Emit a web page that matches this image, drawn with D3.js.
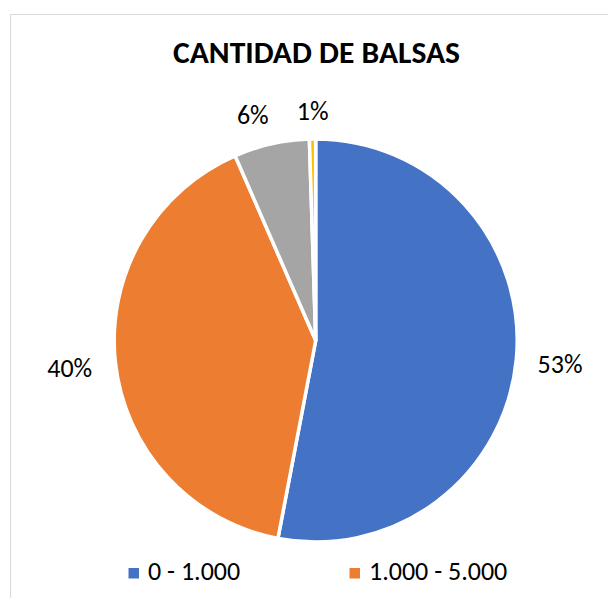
<!DOCTYPE html>
<html>
<head>
<meta charset="utf-8">
<script src="https://cdn.jsdelivr.net/npm/d3@7/dist/d3.min.js"></script>
<style>
  html, body { margin: 0; padding: 0; background: #fff; }
  svg { display: block; }
</style>
</head>
<body>
<svg id="chart" width="608" height="598"></svg>
<script>
// ---- Data ----
const title = "CANTIDAD DE BALSAS";
const categories = ["0 - 1.000", "1.000 - 5.000", "5.000 - 10.000", "Más de 10.000"];
const values = [53.0, 40.45, 6.05, 0.5];
const colors = ["#4472C4", "#ED7D31", "#A5A5A5", "#FFC000"];
const legendShown = ["0 - 1.000", "1.000 - 5.000"];

// ---- Layout ----
const cx = 315.7, cy = 340.5, R = 201.5;
const fontStack = "Carlito, Calibri, 'Liberation Sans', Arial, sans-serif";

const svg = d3.select("#chart");

// chart area border (continues beyond the visible window)
svg.append("rect")
  .attr("x", 10.5).attr("y", 14.5)
  .attr("width", 800).attr("height", 800)
  .attr("fill", "#fff")
  .attr("stroke", "#D9D9D9").attr("stroke-width", 1);

// title
svg.append("text")
  .attr("x", 316.5).attr("y", 63)
  .attr("text-anchor", "middle")
  .attr("font-family", fontStack)
  .attr("font-weight", "bold")
  .attr("font-size", 31)
  .attr("textLength", 287)
  .attr("lengthAdjust", "spacingAndGlyphs")
  .attr("fill", "#000")
  .text(title);

const color = d3.scaleOrdinal().domain(categories).range(colors);
const total = d3.sum(values);
const data = categories.map((c, i) => ({ cat: c, value: values[i] }));

const pie = d3.pie().value(d => d.value).sort(null);
const arcs = pie(data);
const arc = d3.arc().innerRadius(0).outerRadius(R);

const g = svg.append("g").attr("transform", `translate(${cx},${cy})`);
g.selectAll("path.slice")
  .data(arcs)
  .join("path")
  .attr("class", "slice")
  .attr("d", arc)
  .attr("fill", d => color(d.data.cat))
  .attr("stroke", "#fff")
  .attr("stroke-width", 3.5)
  .attr("stroke-linejoin", "round");

// outside-end data labels
const labelPos = arcs.map((a, i) => {
  const mid = (a.startAngle + a.endAngle) / 2;
  let r = R + 40, ang = mid;
  if (i === 0) r = R + 44;
  else if (i === 1) r = R + 46;
  else if (i === 2) { r = R + 33; ang = mid - 0.05; }
  else { r = R + 28; ang = a.endAngle - 0.013; }
  return { x: Math.sin(ang) * r, y: -Math.cos(ang) * r };
});

g.selectAll("text.lbl")
  .data(arcs)
  .join("text")
  .attr("class", "lbl")
  .attr("x", (d, i) => labelPos[i].x)
  .attr("y", (d, i) => labelPos[i].y)
  .attr("text-anchor", "middle")
  .attr("dominant-baseline", "central")
  .attr("font-family", fontStack)
  .attr("font-size", 26)
  .attr("fill", "#000")
  .text(d => Math.round(d.data.value / total * 100 + 1e-6) + "%");

// legend (only first two entries visible)
const legendX = [128.5, 349.5];
const lg = svg.append("g");
legendShown.forEach((c, i) => {
  lg.append("rect")
    .attr("x", legendX[i]).attr("y", 568)
    .attr("width", 10.5).attr("height", 10.5)
    .attr("fill", color(c));
  lg.append("text")
    .attr("x", legendX[i] + 19.5).attr("y", 580)
    .attr("font-family", fontStack)
    .attr("font-size", 26)
    .attr("fill", "#000")
    .text(c);
});
</script>
</body>
</html>
